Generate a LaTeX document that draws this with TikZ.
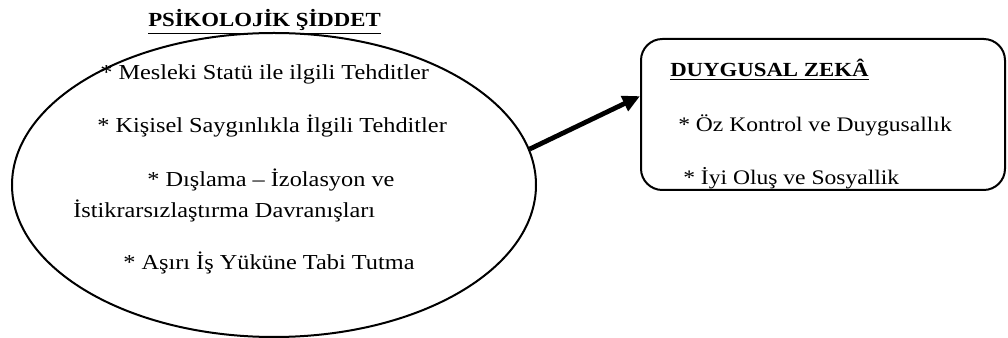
\documentclass[tikz,border=0pt]{standalone}
\usepackage{fontspec}
\setmainfont{Liberation Serif}[FakeStretch=1.14]
\usepackage{tikz}
\usetikzlibrary{arrows.meta, positioning, shapes.geometric, calc}

\begin{document}
\begin{tikzpicture}[
    x=0.75pt, y=-0.75pt,
    heading/.style={anchor=base west, inner sep=0pt,
        font=\fontsize{15}{18}\selectfont\bfseries},
    item/.style={anchor=base west, inner sep=0pt,
        font=\fontsize{16}{19}\selectfont},
    boxitem/.style={item, font=\fontsize{15.5}{18}\selectfont},
    arr/.style={-{Triangle[length=13pt, width=12pt]}, line width=3.6pt},
]
    \useasboundingbox (0,0) rectangle (1008,338);

    % Shapes
    \node[draw, ellipse, line width=1.5pt, minimum width=524*0.75pt,
        minimum height=304*0.75pt, inner sep=0pt] (viol) at (274,185) {};
    \node[draw, rounded corners=16pt, line width=1.5pt,
        minimum width=364*0.75pt, minimum height=151*0.75pt,
        inner sep=0pt] (emo) at (823,114.5) {};

    % Ellipse texts
    \node[heading] (violt) at (148,27) {\underline{PSİKOLOJİK ŞİDDET}};
    \node[item] (v1) at (100,80) {* Mesleki Statü ile ilgili Tehditler};
    \node[item] (v2) at (97,133) {* Kişisel Saygınlıkla İlgili Tehditler};
    \node[item] (v3) at (147,187) {* Dışlama – İzolasyon ve};
    \node[item] (v4) at (73,218) {İstikrarsızlaştırma Davranışları};
    \node[item] (v5) at (123,270) {* Aşırı İş Yüküne Tabi Tutma};

    % Box texts
    \node[heading] (emot) at (670,77) {\underline{DUYGUSAL ZEKÂ}};
    \node[boxitem] (e1) at (678,132) {* Öz Kontrol ve Duygusallık};
    \node[boxitem] (e2) at (683,185) {* İyi Oluş ve Sosyallik};

    % Link
    \draw[arr] (viol.8) -- ($(emo.north west)!0.38!(emo.south west)$);
\end{tikzpicture}
\end{document}
